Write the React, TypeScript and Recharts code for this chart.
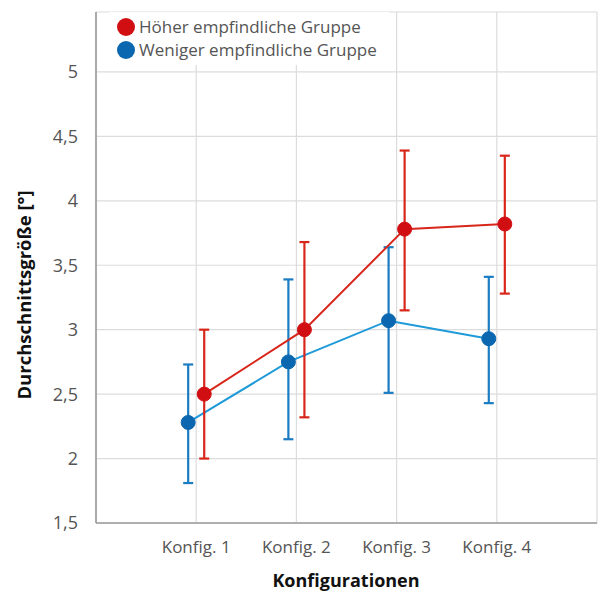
import React from "react";
import {
  LineChart,
  Line,
  XAxis,
  YAxis,
  CartesianGrid,
  ErrorBar,
} from "recharts";

const categories = ["Konfig. 1", "Konfig. 2", "Konfig. 3", "Konfig. 4"];
const yTicks = [1.5, 2, 2.5, 3, 3.5, 4, 4.5, 5];

// Höher empfindliche Gruppe
const highMean = [2.5, 3.0, 3.78, 3.82];
const highLow = [2.0, 2.32, 3.15, 3.28];
const highHigh = [3.0, 3.68, 4.39, 4.35];

// Weniger empfindliche Gruppe
const lowMean = [2.28, 2.75, 3.07, 2.93];
const lowLow = [1.81, 2.15, 2.51, 2.43];
const lowHigh = [2.73, 3.39, 3.64, 3.41];

const legendItems = [
  { label: "Höher empfindliche Gruppe", color: "#d10f12" },
  { label: "Weniger empfindliche Gruppe", color: "#0a67b0" },
];

const RED = "#d8261b";
const RED_DOT = "#d10f12";
const BLUE_LINE = "#1e9ad8";
const BLUE_BAR = "#1a7cc2";
const BLUE_DOT = "#0a67b0";

const FONT = "'Open Sans', 'Noto Sans', sans-serif";

// no page scrollbars, chart sits at the window origin
document.documentElement.style.overflow = "hidden";
document.body.style.margin = "0";
document.body.style.overflow = "hidden";

function buildSeries(mean: number[], low: number[], high: number[], shift: number) {
  return mean.map((m, i) => ({
    x: i + 1 + shift,
    y: m,
    err: [m - low[i], high[i] - m],
  }));
}

const highData = buildSeries(highMean, highLow, highHigh, 0.08);
const lowData = buildSeries(lowMean, lowLow, lowHigh, -0.08);

const fmtY = (v: number) => String(v).replace(".", ",");

function YTitle() {
  return (
    <text
      x={23}
      y={295}
      transform="rotate(-90 23 295)"
      textAnchor="middle"
      dominantBaseline="central"
      fontFamily={FONT}
      fontWeight={700}
      fontSize={18.5}
      fill="#111"
    >
      Durchschnittsgröße [°]
    </text>
  );
}

function XTitle() {
  return (
    <text
      x={346}
      y={580}
      textAnchor="middle"
      dominantBaseline="central"
      fontFamily={FONT}
      fontWeight={700}
      fontSize={18}
      fill="#111"
    >
      Konfigurationen
    </text>
  );
}

function LegendBox() {
  return (
    <div
      style={{
        position: "absolute",
        top: 12,
        left: 109,
        background: "#fff",
        padding: "3px 12px 4px 8px",
        fontFamily: FONT,
      }}
    >
      {legendItems.map((it) => (
        <div key={it.label} style={{ display: "flex", alignItems: "center", height: 23 }}>
          <span
            style={{
              width: 18,
              height: 18,
              borderRadius: "50%",
              background: it.color,
              display: "inline-block",
              marginRight: 4,
            }}
          />
          <span style={{ fontSize: 17, color: "#555" }}>{it.label}</span>
        </div>
      ))}
    </div>
  );
}

export default function App() {
  return (
    <div style={{ position: "relative", width: 599, height: 593, background: "#fff" }}>
      <LineChart width={599} height={593} margin={{ top: 12, right: 2, bottom: 0, left: 0 }}>
        <CartesianGrid stroke="#dcdcdc" strokeWidth={1.2} />
        <XAxis
          type="number"
          dataKey="x"
          domain={[0, 5]}
          ticks={[1, 2, 3, 4]}
          tickFormatter={(v: number) => categories[v - 1]}
          height={70}
          axisLine={{ stroke: "#9a9a9a", strokeWidth: 1.6 }}
          tickLine={false}
          tickMargin={12}
          tick={{ fill: "#555", fontSize: 17, fontFamily: FONT }}
          label={<XTitle />}
        />
        <YAxis
          type="number"
          domain={[1.5, 5.465]}
          ticks={yTicks}
          tickFormatter={fmtY}
          width={96}
          axisLine={{ stroke: "#9a9a9a", strokeWidth: 1.6 }}
          tickLine={false}
          tickMargin={12}
          tick={{ fill: "#555", fontSize: 18, fontFamily: FONT }}
          label={<YTitle />}
        />
        <Line
          data={lowData}
          dataKey="y"
          stroke={BLUE_LINE}
          strokeWidth={2}
          dot={{ r: 7, fill: BLUE_DOT, stroke: BLUE_DOT, strokeWidth: 1 }}
          activeDot={false}
          isAnimationActive={false}
        >
          <ErrorBar dataKey="err" direction="y" width={5} stroke={BLUE_BAR} strokeWidth={2.2} />
        </Line>
        <Line
          data={highData}
          dataKey="y"
          stroke={RED}
          strokeWidth={2}
          dot={{ r: 7, fill: RED_DOT, stroke: RED_DOT, strokeWidth: 1 }}
          activeDot={false}
          isAnimationActive={false}
        >
          <ErrorBar dataKey="err" direction="y" width={5} stroke={RED} strokeWidth={2.2} />
        </Line>
      </LineChart>
      <LegendBox />
    </div>
  );
}
